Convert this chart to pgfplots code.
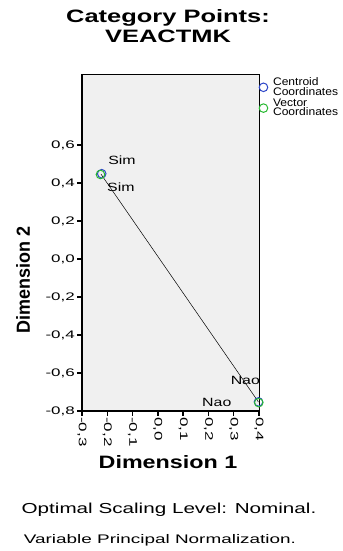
\documentclass[border=0pt]{standalone}
\usepackage{pgfplots}
\pgfplotsset{compat=1.18}
\usepackage{fontspec}
\setmainfont{Liberation Sans}
\newfontfamily\titlef[FakeStretch=1.42]{Liberation Sans}
\newfontfamily\dimonef[FakeStretch=1.3]{Liberation Sans}
\newfontfamily\dimtwof[FakeStretch=0.95]{Liberation Sans}
\newfontfamily\footaf[FakeStretch=1.43]{Liberation Sans}
\newfontfamily\footbf[FakeStretch=1.52]{Liberation Sans}
\newfontfamily\tickf[FakeStretch=1.55]{Liberation Sans}
\newfontfamily\legf[FakeStretch=1.1]{Liberation Sans}
\newfontfamily\ptf[FakeStretch=1.33]{Liberation Sans}
\definecolor{cent}{RGB}{45,70,200}
\definecolor{vect}{RGB}{40,185,50}
\definecolor{bg}{RGB}{240,240,240}
\begin{document}
\begin{tikzpicture}[x=1bp,y=1bp]
\useasboundingbox (0,0) rectangle (342,551);
\begin{axis}[
  at={(82bp,140bp)}, anchor=south west,
  scale only axis, width=177bp, height=337bp,
  xmin=-0.3, xmax=0.4, ymin=-0.8, ymax=0.974,
  clip=false,
  axis background/.style={fill=bg},
  axis line style={black, line width=0.6pt},
  xtick={-0.3,-0.2,-0.1,0,0.1,0.2,0.3,0.4},
  xticklabels={{-0,3},{-0,2},{-0,1},{0,0},{0,1},{0,2},{0,3},{0,4}},
  ytick={-0.8,-0.6,-0.4,-0.2,0,0.2,0.4,0.6},
  yticklabels={{-0,8},{-0,6},{-0,4},{-0,2},{0,0},{0,2},{0,4},{0,6}},
  tick pos=left, tick align=outside,
  major tick length=5bp,
  tick style={black, line width=1.5pt},
  ticklabel style={font=\tickf\fontsize{11}{13}\selectfont},
  x tick label style={rotate=-90, anchor=west, inner sep=1pt},
  y tick label style={inner sep=2pt},
  legend style={at={(1.0,0.99)}, anchor=north west, draw=none, fill=none,
    font=\legf\fontsize{11}{9.5}\selectfont, row sep=1.5pt, inner sep=0pt,
    nodes={align=left, inner sep=0.3pt},
    /tikz/every odd column/.append style={column sep=5bp}},
  legend cell align=left,
]
\addplot[only marks, mark=o, mark size=4.3, cent, line width=1pt] coordinates {(-0.222,0.449) (0.398,-0.752)};
\addlegendentry{Centroid\\Coordinates}
\addplot[only marks, mark=o, mark size=4.3, vect, line width=1pt] coordinates {(-0.227,0.445) (0.399,-0.756)};
\addlegendentry{Vector\\Coordinates}
\addplot[black, line width=0.5pt, forget plot] coordinates {(-0.225,0.447) (0.398,-0.753)};
\draw[black, line width=1.5pt] (axis description cs:0,0) -- (axis description cs:0,1);
\draw[black, line width=1.5pt] (axis description cs:0,0) -- (axis description cs:1,0);
\node[font=\ptf\fontsize{12}{14}\selectfont] at (axis cs:-0.142,0.52) {Sim};
\node[font=\ptf\fontsize{12}{14}\selectfont] at (axis cs:-0.146,0.379) {Sim};
\node[font=\ptf\fontsize{12}{14}\selectfont] at (axis cs:0.346,-0.637) {Nao};
\node[font=\ptf\fontsize{12}{14}\selectfont] at (axis cs:0.233,-0.753) {Nao};
\end{axis}
\node[font=\titlef\fontsize{18}{20}\selectfont\bfseries, anchor=base] at (168,528) {Category Points:};
\node[font=\titlef\fontsize{18}{20}\selectfont\bfseries, anchor=base] at (168,508) {VEACTMK};
\node[font=\dimtwof\fontsize{19}{21}\selectfont\bfseries, rotate=90] at (23,271) {Dimension 2};
\node[font=\dimonef\fontsize{18}{20}\selectfont\bfseries, anchor=base] at (168,82) {Dimension 1};
\node[font=\footaf\fontsize{14.5}{16}\selectfont, anchor=base] at (169,37) {Optimal Scaling Level: Nominal.};
\node[font=\footbf\fontsize{12.5}{14}\selectfont, anchor=base] at (160,7) {Variable Principal Normalization.};
\end{tikzpicture}
\end{document}
